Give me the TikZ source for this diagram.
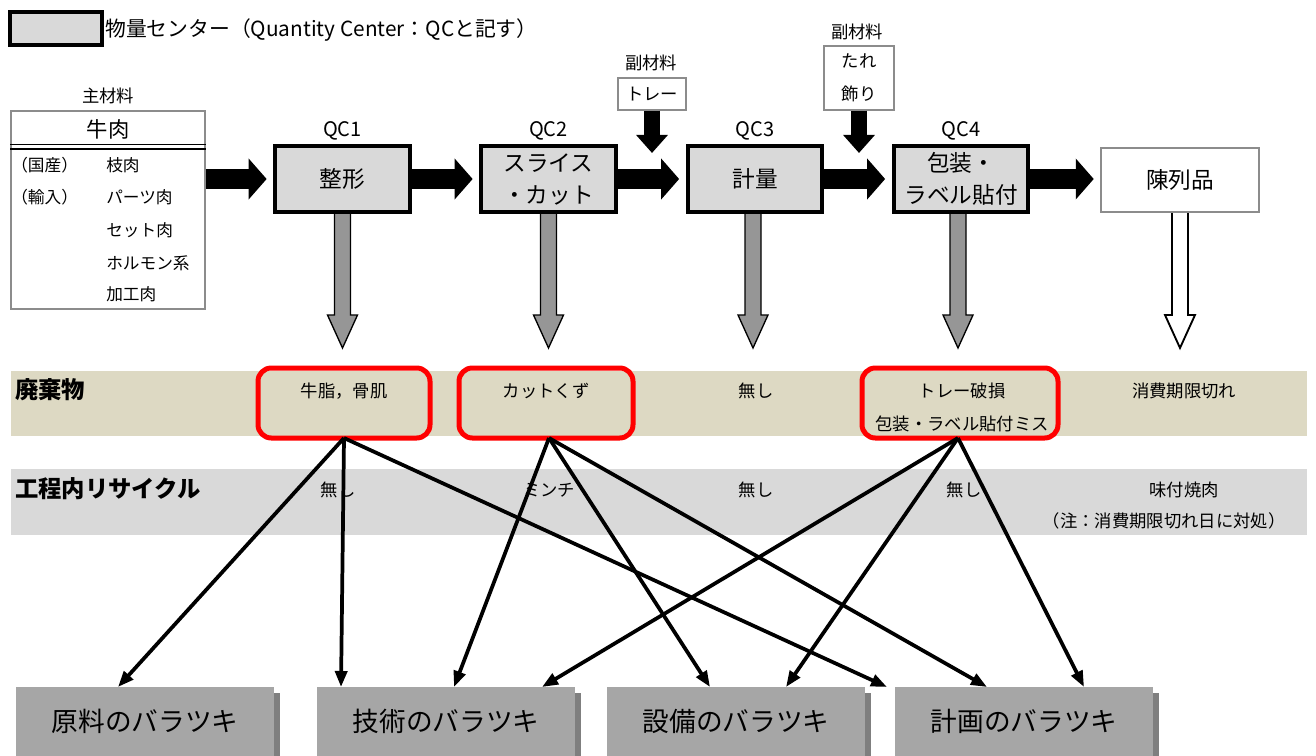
\documentclass[tikz,border=0pt]{standalone}
\usepackage{fontspec}
\setmainfont{Noto Sans CJK JP}
\usetikzlibrary{arrows.meta,calc,shadows}
\definecolor{qcgray}{HTML}{D9D9D9}
\definecolor{beige}{HTML}{DDD9C3}
\definecolor{arrgray}{HTML}{969696}
\definecolor{botgray}{HTML}{A6A6A6}
\definecolor{shadgray}{HTML}{7F7F7F}
\definecolor{thingray}{HTML}{8C8C8C}
\newcommand\qcdown[3]{\draw[#1] ($(#2)+(-8,0)$) -- ($(#2)+(-8,#3-33)$) -- ($(#2)+(-15,#3-33)$) -- ($(#2)+(0,#3)$) -- ($(#2)+(15,#3-33)$) -- ($(#2)+(8,#3-33)$) -- ($(#2)+(8,0)$) -- cycle;}
\begin{document}
\begin{tikzpicture}[x=0.75pt,y=-0.75pt,
  qcbox/.style={draw=black, line width=2.8pt, fill=qcgray, minimum width=101pt, minimum height=49.5pt, inner sep=0pt, align=center, font=\fontsize{17pt}{24pt}\selectfont},
  thinbox/.style={draw=thingray, line width=0.9pt, fill=white, inner sep=0pt, align=center},
  lbl/.style={inner sep=0pt, font=\fontsize{15pt}{18pt}\selectfont},
  small/.style={inner sep=0pt, font=\fontsize{12.5pt}{15pt}\selectfont},
  bandtxt/.style={inner sep=0pt, font=\fontsize{13pt}{16pt}\selectfont},
  bandlbl/.style={inner sep=0pt, anchor=west, font=\fontsize{17.5pt}{20pt}\selectfont\bfseries},
  redbox/.style={draw=red, line width=3.75pt, rounded corners=10pt, minimum height=52.5pt, inner sep=0pt},
  botbox/.style={fill=botgray, minimum width=194pt, minimum height=51.75pt, inner sep=0pt, font=\fontsize{20pt}{24pt}\selectfont, drop shadow={shadow xshift=4pt, shadow yshift=-4.5pt, fill=shadgray, opacity=1}},
  blk/.style={line width=15pt, -{Triangle[length=13.5pt,width=30pt]}},
  vblk/.style={line width=12pt, -{Triangle[length=13.5pt,width=23pt]}},
  conn/.style={line width=2.8pt, -{Triangle[length=12pt,width=9pt]}},
  grayarr/.style={draw=black, line width=1pt, fill=arrgray},
  whitearr/.style={draw=black, line width=1.4pt, fill=white}
]
\useasboundingbox (0,0) rectangle (1316,756);

% legend
\node[draw=black, line width=3.2pt, fill=qcgray, minimum width=69pt, minimum height=24.75pt, inner sep=0pt] (leg) at (56,28.5) {};
\node[lbl, anchor=west, font=\fontsize{15.6pt}{18pt}\selectfont] (legt) at (105,30) {物量センター（Quantity Center：QCと記す）};

% bands
\node[fill=beige, minimum width=972pt, minimum height=48.75pt, inner sep=0pt] (band1) at (659,403.5) {};
\node[fill=qcgray, minimum width=972pt, minimum height=49.5pt, inner sep=0pt] (band2) at (659,502) {};
\node[bandlbl] (w0) at (15,390) {廃棄物};
\node[bandlbl] (c0) at (15,489) {工程内リサイクル};

% main material
\node[small, font=\fontsize{13pt}{15pt}\selectfont] (mmlbl) at (108,96) {主材料};
\node[thinbox, minimum width=145.5pt, minimum height=148.5pt] (mm) at (108,210) {};
\node[inner sep=0pt, font=\fontsize{16pt}{18pt}\selectfont] (beef) at (108,129) {牛肉};
\draw[line width=0.8pt] ($(mm.north west)+(0,34)$) -- ($(mm.north east)+(0,34)$);
\draw[line width=1.6pt] ($(mm.north west)+(0,38.5)$) -- ($(mm.north east)+(0,38.5)$);
\node[small, anchor=west] (r1a) at (11,165) {（国産）};
\node[small, anchor=west] (r2a) at (11,197) {（輸入）};
\node[small, anchor=west] (r1b) at (106,165) {枝肉};
\node[small, anchor=west] (r2b) at (106,197) {パーツ肉};
\node[small, anchor=west] (r3b) at (106,230) {セット肉};
\node[small, anchor=west] (r4b) at (106,263) {ホルモン系};
\node[small, anchor=west] (r5b) at (106,294) {加工肉};

% gray arrows (drawn before boxes)
\coordinate (g1) at (342.5,212);
\coordinate (g2) at (548.5,212);
\coordinate (g3) at (753,212);
\coordinate (g4) at (958,212);
\coordinate (g5) at (1180,212);
\qcdown{grayarr}{g1}{136}
\qcdown{grayarr}{g2}{136}
\qcdown{grayarr}{g3}{136}
\qcdown{grayarr}{g4}{136}
\qcdown{whitearr}{g5}{136}

% QC boxes
\node[qcbox] (q1) at (342.5,179) {整形};
\node[qcbox] (q2) at (548.5,179) {スライス\\・カット};
\node[qcbox] (q3) at (755,179) {計量};
\node[qcbox] (q4) at (961,179) {包装・\\ラベル貼付};
\node[thinbox, minimum width=118.5pt, minimum height=48pt, font=\fontsize{17pt}{20pt}\selectfont] (disp) at (1180,180) {陳列品};
\node[lbl] (q1l) at (342.5,131) {QC1};
\node[lbl] (q2l) at (548.5,131) {QC2};
\node[lbl] (q3l) at (755,131) {QC3};
\node[lbl] (q4l) at (961,131) {QC4};

% sub materials
\node[small, font=\fontsize{13pt}{15pt}\selectfont] (s1l) at (651,63) {副材料};
\node[thinbox, minimum width=51pt, minimum height=24pt, font=\fontsize{13pt}{15pt}\selectfont] (tray) at (652,94) {トレー};
\node[small, font=\fontsize{13pt}{15pt}\selectfont] (s2l) at (857,32) {副材料};
\node[thinbox, minimum width=52.5pt, minimum height=48pt, font=\fontsize{13pt}{24.5pt}\selectfont] (tare) at (859,78) {たれ\\飾り};

% black block arrows
\draw[blk, shorten >=5pt] (mm.east |- q1.west) -- (q1.west);
\draw[blk, shorten >=5pt] (q1.east) -- (q2.west);
\draw[blk, shorten >=5pt] (q2.east) -- (q3.west);
\draw[blk, shorten >=5pt] (q3.east) -- (q4.west);
\draw[blk, shorten >=5pt] (q4.east) -- (q4.east -| disp.west);
\coordinate (t1) at (652,153);
\coordinate (t2) at (859,153);
\draw[vblk] (tray.south) -- (t1);
\draw[vblk] (tare.south) -- (t2);

% waste texts
\node[bandtxt] (w1) at (344,391) {牛脂，骨肌};
\node[bandtxt] (w2) at (546,391) {カットくず};
\node[bandtxt] (w3) at (756,391) {無し};
\node[bandtxt] (w4) at (962,391) {トレー破損};
\node[bandtxt] (w4b) at (962,424) {包装・ラベル貼付ミス};
\node[bandtxt] (w5) at (1184,391) {消費期限切れ};
% recycle texts
\node[bandtxt] (c1) at (338,490) {無し};
\node[bandtxt] (c2) at (549,490) {ミンチ};
\node[bandtxt] (c3) at (756,490) {無し};
\node[bandtxt] (c4) at (964,490) {無し};
\node[bandtxt] (c5) at (1184,490) {味付焼肉};
\node[bandtxt] (c5b) at (1164,521) {（注：消費期限切れ日に対処）};

% red boxes
\node[redbox, minimum width=129pt] (rb1) at (344,403) {};
\node[redbox, minimum width=130.5pt] (rb2) at (546,403) {};
\node[redbox, minimum width=147pt] (rb4) at (960,403) {};

% bottom boxes
\node[botbox] (b1) at (145,721.5) {原料のバラツキ};
\node[botbox] (b2) at (446,721.5) {技術のバラツキ};
\node[botbox] (b3) at (736,721.5) {設備のバラツキ};
\node[botbox] (b4) at (1024,721.5) {計画のバラツキ};

% connector sources and targets
\coordinate (s1) at (344,438);
\coordinate (s2) at (549,438);
\coordinate (s4) at (958,438);
\coordinate (e1) at (118,687);
\coordinate (e2a) at (341,687);
\coordinate (e2b) at (454,687);
\coordinate (e2c) at (542,687);
\coordinate (e3a) at (710,687);
\coordinate (e3b) at (786,687);
\coordinate (e4a) at (887,687);
\coordinate (e4b) at (987,687);
\coordinate (e4c) at (1084,687);

\draw[conn] (s1) -- (e1);
\draw[conn] (s1) -- (e2a);
\draw[conn] (s1) -- (e4a);
\draw[conn] (s2) -- (e2b);
\draw[conn] (s2) -- (e3a);
\draw[conn] (s2) -- (e4b);
\draw[conn] (s4) -- (e2c);
\draw[conn] (s4) -- (e3b);
\draw[conn] (s4) -- (e4c);
\end{tikzpicture}
\end{document}
